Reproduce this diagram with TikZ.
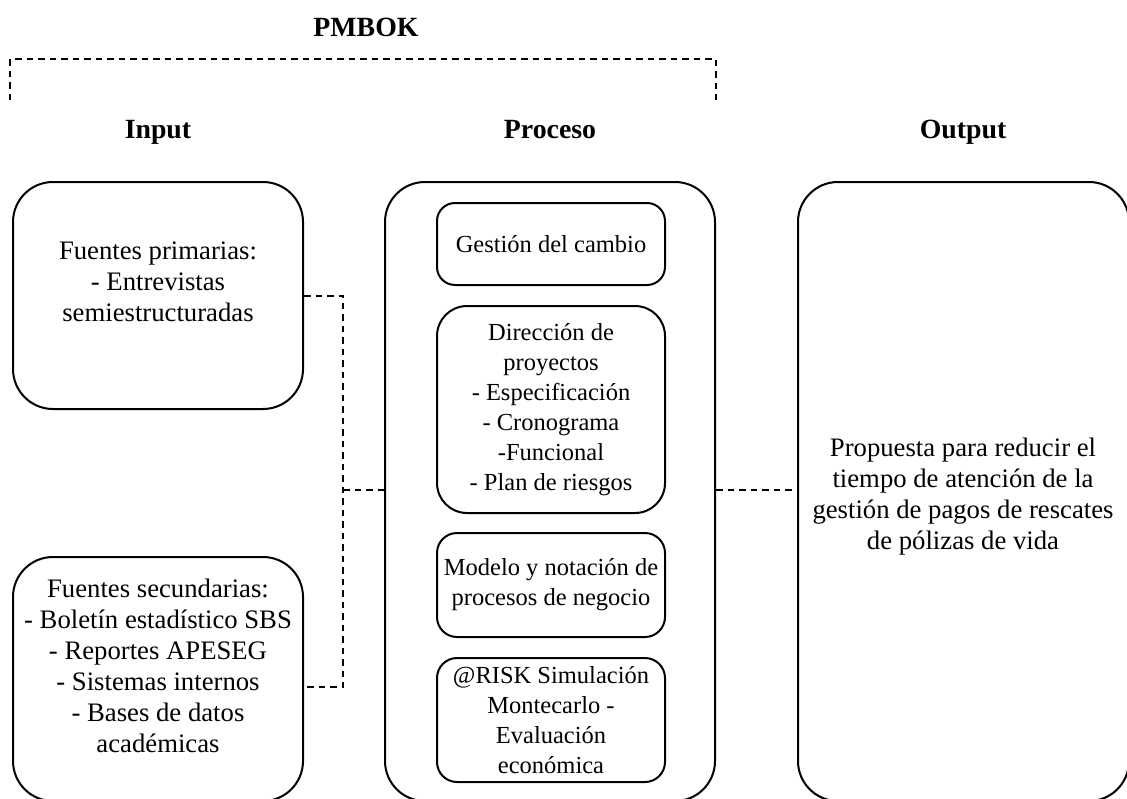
\documentclass[tikz,border=0pt]{standalone}
\usepackage{fontspec}
\setmainfont{Liberation Serif}
\begin{document}
\begin{tikzpicture}[x=1pt,y=-1pt,
  outerbox/.style={draw, line width=2pt, rounded corners=40pt, inner sep=0pt,
    minimum width=#1},
  innerbox/.style={draw, line width=2pt, inner sep=0pt, minimum width=228pt,
    align=center, font=\fontsize{24.5}{30}\selectfont},
  body/.style={align=center, inner sep=0pt, font=\fontsize{26.7}{31}\selectfont},
  heading/.style={anchor=base, inner sep=0pt, font=\fontsize{27.8}{31}\selectfont\bfseries},
  conn/.style={draw, line width=2pt, dash pattern=on 6.5pt off 5pt}]
\useasboundingbox (0,0) rectangle (1127,798);
\clip (0,0) rectangle (1127,798);

% titles
\node[heading] (pmbok) at (366,36) {PMBOK};
\node[heading] (hin)   at (158,138) {Input};
\node[heading] (hproc) at (550,138) {Proceso};
\node[heading] (hout)  at (963,138) {Output};

% dashed bracket under PMBOK
\coordinate (bl) at (10,100);
\coordinate (br) at (716,100);
\draw[conn] (bl) -- (bl |- 0,59) -- (br |- 0,59) -- (br);

% input boxes
\node[outerbox=290pt, minimum height=227pt] (in1) at (158,295.5) {};
\node[body] (in1t) at (158,282) {Fuentes primarias:\\- Entrevistas\\semiestructuradas};
\node[outerbox=290pt, minimum height=244pt] (in2) at (158,679) {};
\node[body] (in2t) at (158,666) {Fuentes secundarias:\\- Boletín estadístico SBS\\- Reportes APESEG\\- Sistemas internos\\- Bases de datos\\académicas};

% process box and its steps
\node[outerbox=330pt, minimum height=619pt] (mid) at (550,491.5) {};
\node[innerbox, rounded corners=18pt, minimum height=82pt] (s1) at (551,244) {Gestión del cambio};
\node[innerbox, rounded corners=30pt, minimum height=207pt] (s2) at (551,409.5)
  {Dirección de\\proyectos\\- Especificación\\- Cronograma\\-Funcional\\- Plan de riesgos};
\node[innerbox, rounded corners=20pt, minimum height=104pt] (s3) at (551,585)
  {Modelo y notación de\\procesos de negocio};
\node[innerbox, rounded corners=20pt, minimum height=124pt] (s4) at (551,720)
  {@RISK Simulación\\Montecarlo -\\Evaluación\\económica};

% output box
\node[outerbox=331pt, minimum height=619pt] (out) at (963.5,491.5) {};
\node[body] (outt) at (963,497) {Propuesta para reducir el\\tiempo de atención de la\\gestión de pagos de rescates\\de pólizas de vida};

% connectors
\coordinate (jx) at (343,490);
\draw[conn] (in1.east) -| (jx) |- ([yshift=-8pt]in2.east);
\draw[conn] (jx) -- (jx -| mid.west);
\draw[conn] (jx -| mid.east) -- (jx -| out.west);
\end{tikzpicture}
\end{document}
